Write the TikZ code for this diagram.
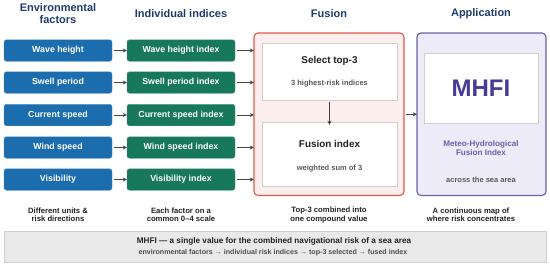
\documentclass[tikz,border=0pt]{standalone}
\usepackage{fontspec}
\setmainfont{Liberation Sans}
\usetikzlibrary{arrows.meta}
\definecolor{facblue}{HTML}{1B6DAD}
\definecolor{idxgreen}{HTML}{18785B}
\definecolor{hdrnavy}{HTML}{1E3B6F}
\definecolor{fusred}{HTML}{E2574C}
\definecolor{fuspink}{HTML}{FDEEEE}
\definecolor{apppurple}{HTML}{6C5DB0}
\definecolor{applav}{HTML}{EEEBF8}
\definecolor{mhfitext}{HTML}{4A3A96}
\definecolor{innergray}{HTML}{CFCFCF}
\definecolor{bandfill}{HTML}{E9E9E9}
\definecolor{txtdark}{HTML}{222222}
\tikzset{
  hdr/.style={font=\fontsize{11}{12.5}\selectfont\bfseries, text=hdrnavy, align=center},
  facbox/.style={draw=facblue!80!white, fill=facblue, rounded corners=2.5pt, minimum width=108pt, minimum height=21.5pt, text=white, font=\fontsize{8.8}{10}\selectfont\bfseries, inner sep=0pt},
  idxbox/.style={draw=idxgreen!80!white, fill=idxgreen, rounded corners=2.5pt, minimum width=108pt, minimum height=21.5pt, text=white, font=\fontsize{8.8}{10}\selectfont\bfseries, inner sep=0pt},
  conn/.style={draw=txtdark!85, line width=0.9pt, -{Stealth[length=4pt,width=4pt]}},
  captxt/.style={font=\fontsize{7.7}{8.4}\selectfont\bfseries, text=txtdark, align=center},
  innerbox/.style={draw=innergray, fill=white, line width=0.7pt},
  subtxt/.style={font=\fontsize{7.5}{9}\selectfont\bfseries, text=txtdark!75}
}
\begin{document}
\begin{tikzpicture}[x=1pt,y=-1pt]
\useasboundingbox (0,0) rectangle (550,266);
% headers
\node[hdr] (h1) at (58,13.5) {Environmental\\factors};
\node[hdr] (h2) at (181,14) {Individual indices};
\node[hdr] (h3) at (329,14) {Fusion};
\node[hdr] (h4) at (481,14) {Application};
% fusion and application containers
\draw[draw=fusred, fill=fuspink, line width=1.1pt, rounded corners=4pt] (254,33) rectangle (404,195.5);
\node[draw=none, minimum width=150pt, minimum height=162.5pt, inner sep=0pt] (fus) at (329,114.25) {};
\draw[draw=apppurple, fill=applav, line width=1.1pt, rounded corners=4pt] (417,33) rectangle (546,195.5);
\node[draw=none, minimum width=129pt, minimum height=162.5pt, inner sep=0pt] (app) at (481.5,114.25) {};
% inner fusion boxes
\draw[innerbox] (262,43) rectangle (397,100);
\node (sel) at (329.5,71.5) [minimum width=135pt, minimum height=57pt, inner sep=0pt] {};
\node[font=\fontsize{9.9}{11}\selectfont\bfseries, text=txtdark] (selt) at (329.5,61) {Select top-3};
\node[subtxt] (sels) at (329.5,84) {3 highest-risk indices};
\draw[innerbox] (262,122) rectangle (397,186);
\node (fi) at (329.5,154) [minimum width=135pt, minimum height=64pt, inner sep=0pt] {};
\node[font=\fontsize{9.9}{11}\selectfont\bfseries, text=txtdark] (fit) at (329.5,144) {Fusion index};
\node[subtxt] (fis) at (329.5,169) {weighted sum of 3};
\draw[conn] ([yshift=-1.5pt]sel.south) -- ([yshift=-3pt]fi.north);
% application inner
\draw[innerbox] (424,53) rectangle (538,123);
\node[font=\fontsize{24}{26}\selectfont\bfseries, text=mhfitext] (mhfi) at (481,88) {MHFI};
\node[font=\fontsize{8.1}{9}\selectfont\bfseries, text=apppurple, align=center] (mhfd) at (481,148) {Meteo-Hydrological\\Fusion Index};
\node[subtxt] (asa) at (481,180) {across the sea area};
% rows
\foreach \i/\y/\a/\b in {1/50.5/Wave height/Wave height index, 2/82.5/Swell period/Swell period index, 3/115/Current speed/Current speed index, 4/147.5/Wind speed/Wind speed index, 5/179.5/Visibility/Visibility index}{
  \node[facbox] (f\i) at (58,\y) {\a};
  \node[idxbox] (g\i) at (181,\y) {\b};
  \draw[conn] ([xshift=2pt]f\i.east) -- (g\i.west);
  \draw[conn] ([xshift=2pt]g\i.east) -- (fus.west |- g\i.east);
}
\coordinate (fa) at ([xshift=2pt]fus.east);
\draw[conn] (fa) -- (app.west |- fa);
% captions
\node[captxt] (c1) at (58,215) {Different units \&\\risk directions};
\node[captxt] (c2) at (181,215) {Each factor on a\\common 0–4 scale};
\node[captxt] (c3) at (329,215) {Top-3 combined into\\one compound value};
\node[captxt] (c4) at (471,215) {A continuous map of\\where risk concentrates};
% bottom band
\draw[draw=innergray, fill=bandfill, line width=0.6pt] (4,231) rectangle (546,262);
\node[font=\fontsize{8.2}{9}\selectfont\bfseries, text=txtdark] (b1) at (274,241) {MHFI — a single value for the combined navigational risk of a sea area};
\node[font=\fontsize{7.1}{8}\selectfont\bfseries, text=txtdark!80] (b2) at (273,252.5) {environmental factors → individual risk indices → top-3 selected → fused index};
\end{tikzpicture}
\end{document}
